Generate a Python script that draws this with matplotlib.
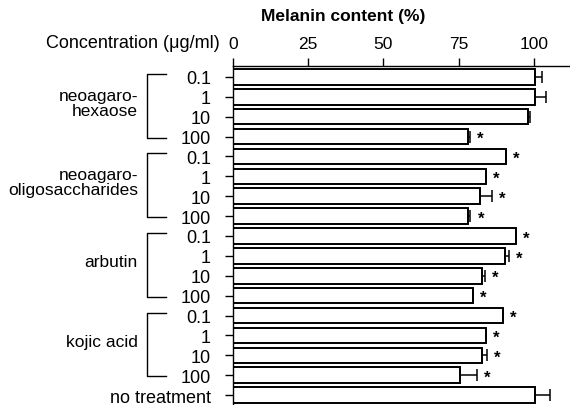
import numpy as np
import matplotlib.pyplot as plt

plt.rcParams['font.family'] = ['Liberation Sans', 'DejaVu Sans']

groups = ["neoagaro-\nhexaose", "neoagaro-\noligosaccharides", "arbutin", "kojic acid"]
concs = ["0.1", "1", "10", "100"]
# melanin content (%) per row, top to bottom, last one is no treatment
values = [100.4, 100.4, 98.0, 78.2,
          90.6, 84.0, 82.1, 78.2,
          94.0, 90.5, 82.6, 79.6,
          89.6, 84.0, 82.6, 75.5,
          100.4]
errors = [2.3, 3.6, 0.8, 0.4,
          0.0, 0.0, 4.0, 0.7,
          0.0, 1.1, 1.0, 0.0,
          0.0, 0.0, 1.8, 5.5,
          5.1]
signif = [False, False, False, True,
          True, True, True, True,
          True, True, True, True,
          True, True, True, True,
          False]
row_labels = concs * 4 + ["no treatment"]
xticks = [0, 25, 50, 75, 100]

fig = plt.figure(figsize=(5.7, 4.06), dpi=100)
ax = fig.add_axes([233/570, 0.0, 337/570, 1 - 67/406])

y = np.arange(len(values))
ax.barh(y, values, height=0.78, color="white", edgecolor="black", linewidth=1.4)
ax.errorbar(values, y, xerr=[np.zeros(len(errors)), errors], fmt="none",
            ecolor="black", elinewidth=1.1, capsize=4, capthick=1.1)
for yi, v, e, s in zip(y, values, errors, signif):
    if s:
        ax.text(v + e + 3.5, yi + 0.1, "*", ha="center", va="center",
                fontsize=12, fontweight="bold")

ax.set_xlim(0, 112)
ax.set_ylim(len(values) - 0.5, -0.55)
ax.xaxis.tick_top()
ax.set_xticks(xticks)
ax.set_xticklabels([str(t) for t in xticks], fontsize=12.5)
ax.tick_params(axis="x", direction="out", length=6, width=1, pad=5)
ax.set_yticks(y)
ax.set_yticklabels(row_labels, fontsize=13)
ax.tick_params(axis="y", direction="out", length=6, width=1, pad=10)
ax.spines["right"].set_visible(False)
ax.spines["bottom"].set_visible(False)
ax.spines["top"].set_linewidth(1.0)
ax.spines["left"].set_linewidth(1.0)

fig.text(343/570, 1 - 16/406, "Melanin content (%)", ha="center", va="center",
         fontsize=12.5, fontweight="bold")
fig.text(220/570, 1 - 44/406, "Concentration (\u03bcg/ml)", ha="right",
         va="center", fontsize=13)

# group brackets on the left
tr = ax.get_yaxis_transform()
for i, g in enumerate(groups):
    top = i * 4 - 0.15
    bot = i * 4 + 3.05
    ax.plot([-0.199, -0.255, -0.255, -0.199], [top, top, bot, bot],
            transform=tr, color="black", lw=1.0, clip_on=False)
    ax.text(-0.282, i * 4 + 1.3, g, transform=tr, ha="right", va="center",
            fontsize=12.5, linespacing=1.0, multialignment="right")

fig.savefig("out.png", dpi=100)
